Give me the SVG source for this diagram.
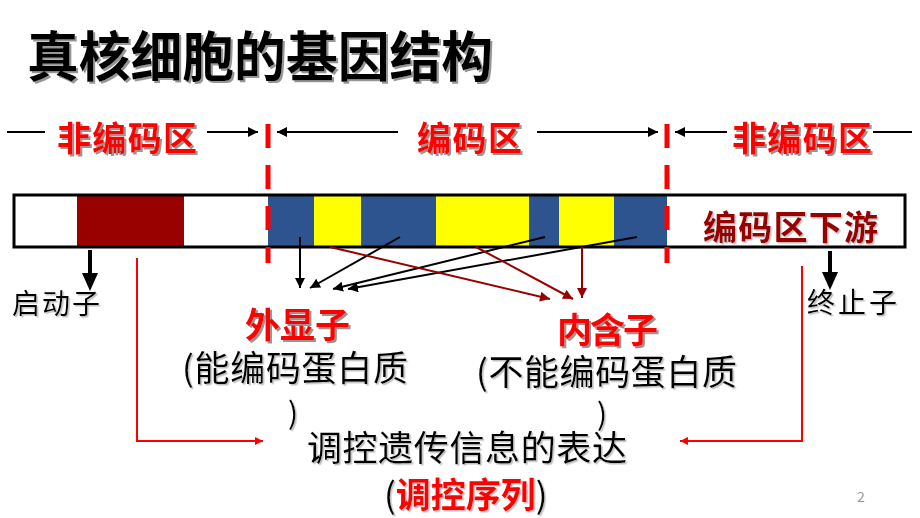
<svg xmlns="http://www.w3.org/2000/svg" width="920" height="518" viewBox="0 0 920 518">
<defs>
<style>
text{font-family:"Noto Sans CJK SC","Liberation Sans",sans-serif;}
.title{font-size:54px;font-weight:bold;fill:#000;}
.zone{font-size:34px;font-weight:bold;fill:#FF0000;}
.lab{font-size:28px;fill:#000;}
.body{font-size:35px;fill:#000;}
.par{font-size:30px;fill:#000;}
.hl{font-size:35px;font-weight:bold;fill:#FF0000;}
.blk{stroke:#000;stroke-width:2;fill:none;}
.dr{stroke:#990000;stroke-width:2;fill:none;}
.rl{stroke:#FF0000;stroke-width:2;fill:none;}
</style>
<filter id="sh" x="-5%" y="-5%" width="115%" height="130%">
<feDropShadow dx="2" dy="2" stdDeviation="0.4" flood-color="#8a8a8a" flood-opacity="0.9"/>
</filter>
<filter id="sh2" x="-5%" y="-5%" width="115%" height="130%">
<feDropShadow dx="1.5" dy="1.5" stdDeviation="0.4" flood-color="#b0b0b0" flood-opacity="0.8"/>
</filter>
<marker id="ab" viewBox="0 0 10 10" refX="10" refY="5" markerWidth="5" markerHeight="5" orient="auto" markerUnits="strokeWidth">
<path d="M0,0 L10,5 L0,10 z" fill="#000"/>
</marker>
<marker id="ad" viewBox="0 0 10 10" refX="10" refY="5" markerWidth="6" markerHeight="5" orient="auto" markerUnits="strokeWidth">
<path d="M0,0 L10,5 L0,10 z" fill="#990000"/>
</marker>
<marker id="ar" viewBox="0 0 10 10" refX="10" refY="5" markerWidth="5" markerHeight="4" orient="auto" markerUnits="strokeWidth">
<path d="M0,0 L10,5 L0,10 z" fill="#FF0000"/>
</marker>
</defs>
<rect width="920" height="518" fill="#fff"/>

<g id="title"><text class="title" x="27" y="77" textLength="466" lengthAdjust="spacingAndGlyphs" filter="url(#sh)">真核细胞的基因结构</text></g>

<g id="zone-labels">
<text class="zone" x="57" y="151" textLength="140" filter="url(#sh)">非编码区</text>
<text class="zone" x="417" y="151" textLength="105" filter="url(#sh)">编码区</text>
<text class="zone" x="732" y="151" textLength="140" filter="url(#sh)">非编码区</text>
</g>

<g id="gene-bar">
<rect x="14" y="195" width="891" height="52" fill="#fff"/>
<rect x="77" y="195" width="107" height="52" fill="#990000"/>
<rect x="268" y="195" width="46" height="52" fill="#2E5490"/>
<rect x="314" y="195" width="47" height="52" fill="#FFFF00"/>
<rect x="361" y="195" width="75" height="52" fill="#2E5490"/>
<rect x="436" y="195" width="93" height="52" fill="#FFFF00"/>
<rect x="529" y="195" width="30" height="52" fill="#2E5490"/>
<rect x="559" y="195" width="55" height="52" fill="#FFFF00"/>
<rect x="614" y="195" width="53" height="52" fill="#2E5490"/>
<rect x="14" y="195" width="891" height="52" fill="none" stroke="#000" stroke-width="3"/>
<text x="703" y="240" font-size="34" font-weight="bold" fill="#990000" textLength="175" filter="url(#sh2)">编码区下游</text>
</g>

<g id="boundaries">
<line x1="268" y1="124" x2="268" y2="263" stroke="#FF0000" stroke-width="5" stroke-dasharray="24 17"/>
<line x1="667" y1="124" x2="667" y2="263" stroke="#FF0000" stroke-width="5" stroke-dasharray="24 17"/>
</g>

<g id="promoter">
<text class="lab" x="12" y="314" textLength="88" filter="url(#sh2)">启动子</text>
</g>
<g id="terminator">
<text class="lab" x="807" y="313" textLength="90" filter="url(#sh2)">终止子</text>
</g>

<g id="exon">
<text class="hl" x="245" y="338" textLength="105" filter="url(#sh)">外显子</text>
<text class="body" x="182" y="381" textLength="226" filter="url(#sh2)">(能编码蛋白质</text>
<text class="par" x="288" y="424" filter="url(#sh2)">)</text>
</g>

<g id="intron">
<text class="hl" x="557" y="343" textLength="101" filter="url(#sh)">内含子</text>
<text class="body" x="476" y="385" textLength="261" filter="url(#sh2)">(不能编码蛋白质</text>
<text class="par" x="597" y="425" filter="url(#sh2)">)</text>
</g>

<g id="regulation">
<text class="body" x="307" y="461" textLength="320" filter="url(#sh2)">调控遗传信息的表达</text>
<text x="384" y="508" font-size="35" filter="url(#sh2)"><tspan fill="#000">(</tspan><tspan fill="#FF0000" font-weight="bold">调控序列</tspan><tspan fill="#000">)</tspan></text>
</g>

<g id="page-number"><text x="857" y="502" font-size="14" fill="#999" font-family="Liberation Serif,serif">2</text></g>

<g id="connectors">
<line x1="7" y1="132" x2="45" y2="132" class="blk"/>
<line x1="207" y1="132" x2="258" y2="132" class="blk" marker-end="url(#ab)"/>
<line x1="398" y1="132" x2="277" y2="132" class="blk" marker-end="url(#ab)"/>
<line x1="537" y1="132" x2="658" y2="132" class="blk" marker-end="url(#ab)"/>
<line x1="727" y1="132" x2="675" y2="132" class="blk" marker-end="url(#ab)"/>
<line x1="873" y1="132" x2="912" y2="132" class="blk"/>

<path d="M90,250 V274" stroke="#000" stroke-width="4"/>
<path d="M82,273 L98,273 L90,291 z" fill="#000"/>
<path d="M830,251 V273" stroke="#000" stroke-width="4"/>
<path d="M822,272 L838,272 L830,290 z" fill="#000"/>

<line x1="300" y1="237" x2="300" y2="288" class="blk" marker-end="url(#ab)"/>
<line x1="400" y1="237" x2="310" y2="288" class="blk" marker-end="url(#ab)"/>
<line x1="545" y1="237" x2="333" y2="289" class="blk" marker-end="url(#ab)"/>
<line x1="637" y1="237" x2="348" y2="289" class="blk" marker-end="url(#ab)"/>

<line x1="330" y1="247" x2="550" y2="299" class="dr" marker-end="url(#ad)"/>
<line x1="476" y1="247" x2="573" y2="299" class="dr" marker-end="url(#ad)"/>
<line x1="582" y1="247" x2="582" y2="298" class="dr" marker-end="url(#ad)"/>

<path d="M137,258 V441 H263" class="rl" marker-end="url(#ar)"/>
<path d="M802,266 V441 H680" class="rl" marker-end="url(#ar)"/>
</g>
</svg>
